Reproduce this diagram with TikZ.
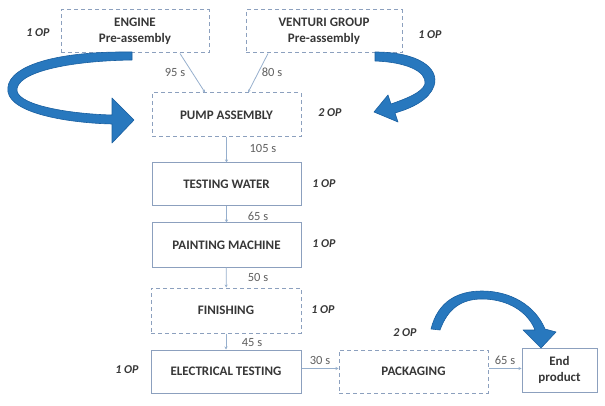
\documentclass[tikz,border=0pt]{standalone}
\usepackage{fontspec}
\setmainfont{Carlito}
\usetikzlibrary{arrows.meta}
\definecolor{boxc}{RGB}{140,160,190}
\definecolor{linec}{RGB}{150,175,205}
\definecolor{txtc}{RGB}{55,55,55}
\definecolor{arrc}{RGB}{40,120,190}
\definecolor{arrd}{RGB}{25,95,160}
\tikzset{
  box/.style={draw=boxc, line width=1pt, minimum height=43pt, inner sep=0pt, align=center,
    text=txtc, font=\fontsize{13}{15.5}\selectfont\bfseries},
  dbox/.style={box, dash pattern=on 4pt off 3pt},
  op/.style={text=txtc, font=\fontsize{12}{14}\selectfont\bfseries\itshape, inner sep=0pt},
  tlab/.style={text=txtc!80, font=\fontsize{12.5}{14}\selectfont, inner sep=0pt},
  conn/.style={draw=linec, line width=0.8pt, -{Stealth[length=3pt,width=3pt]}},
  swoosh/.style={fill=arrc, draw=arrd, line width=0.6pt, line join=round}
}
\begin{document}
\begin{tikzpicture}[x=1pt,y=-1pt]
\useasboundingbox (0,0) rectangle (605,406);
% boxes
\node[dbox, minimum width=148pt] (eng) at (135,31.5) {ENGINE\\Pre-assembly};
\node[dbox, minimum width=156pt] (ven) at (324,31.5) {VENTURI GROUP\\Pre-assembly};
\node[dbox, minimum width=149pt, minimum height=44pt] (pump) at (226.5,115) {PUMP ASSEMBLY};
\node[box, minimum width=149pt] (test) at (226.5,184.5) {TESTING WATER};
\node[box, minimum width=149pt, minimum height=44pt] (paint) at (226.5,245) {PAINTING MACHINE};
\node[dbox, minimum width=150pt, minimum height=45pt] (fin) at (226,310.5) {FINISHING};
\node[box, minimum width=150pt] (elec) at (226,371.5) {ELECTRICAL TESTING};
\node[dbox, minimum width=149pt] (pack) at (413.5,371.5) {PACKAGING};
\node[box, minimum width=75pt, minimum height=44pt] (endp) at (559.5,370) {End\\product};
% connectors
\draw[conn] ([xshift=45pt]eng.south) -- ([xshift=-21.5pt]pump.north);
\draw[conn] ([xshift=-56pt]ven.south) -- ([xshift=21.5pt]pump.north);
\draw[conn] (pump) -- (test);
\draw[conn] (test) -- (paint);
\draw[conn] (paint) -- (fin);
\draw[conn] (fin) -- (elec);
\draw[conn] ([yshift=3pt]elec.east) -- ([yshift=3pt]pack.west);
\draw[conn] ([yshift=3pt]pack.east) -- ([yshift=1.5pt]endp.west);
% connector labels
\node[tlab] (l95) at (175,72) {95 s};
\node[tlab] (l80) at (272,72) {80 s};
\node[tlab] (l105) at (263,148) {105 s};
\node[tlab] (l65a) at (258,216) {65 s};
\node[tlab] (l50) at (258,277) {50 s};
\node[tlab] (l45) at (252,343) {45 s};
\node[tlab] (l30) at (320,360) {30 s};
\node[tlab] (l65b) at (505,360) {65 s};
% operator labels
\node[op] (o1) at (38,33) {1 OP};
\node[op] (o2) at (430,35) {1 OP};
\node[op] (o3) at (330,113) {2 OP};
\node[op] (o4) at (324,184) {1 OP};
\node[op] (o5) at (324,244) {1 OP};
\node[op] (o6) at (323,310) {1 OP};
\node[op] (o7) at (127,370) {1 OP};
\node[op] (o8) at (405,333) {2 OP};
% blue swoosh arrows
\path[swoosh] (132,52) .. controls (50,51) and (4,68) .. (8,92)
  .. controls (12,114) and (70,123) .. (112,124)
  -- (112,143) -- (134,120) -- (112,98) -- (112,115)
  .. controls (72,114) and (20,106) .. (17,91)
  .. controls (15,73) and (65,61) .. (132,60) -- cycle;
\path[swoosh] (375,52) .. controls (418,52) and (440,68) .. (434,86)
  .. controls (429,100) and (412,108) .. (395,113)
  -- (398,122) -- (374,112) -- (388,95) -- (391,104)
  .. controls (405,99) and (422,93) .. (425,84)
  .. controls (427,71) and (405,62) .. (375,61) -- cycle;
\path[swoosh] (431,329) .. controls (438,301) and (458,291) .. (482,291)
  .. controls (510,291) and (535,305) .. (545,329)
  -- (556,332) -- (541,348) -- (523,330) -- (535,330)
  .. controls (528,312) and (508,299) .. (482,299)
  .. controls (462,299) and (448,308) .. (440,330) -- cycle;
\end{tikzpicture}
\end{document}
